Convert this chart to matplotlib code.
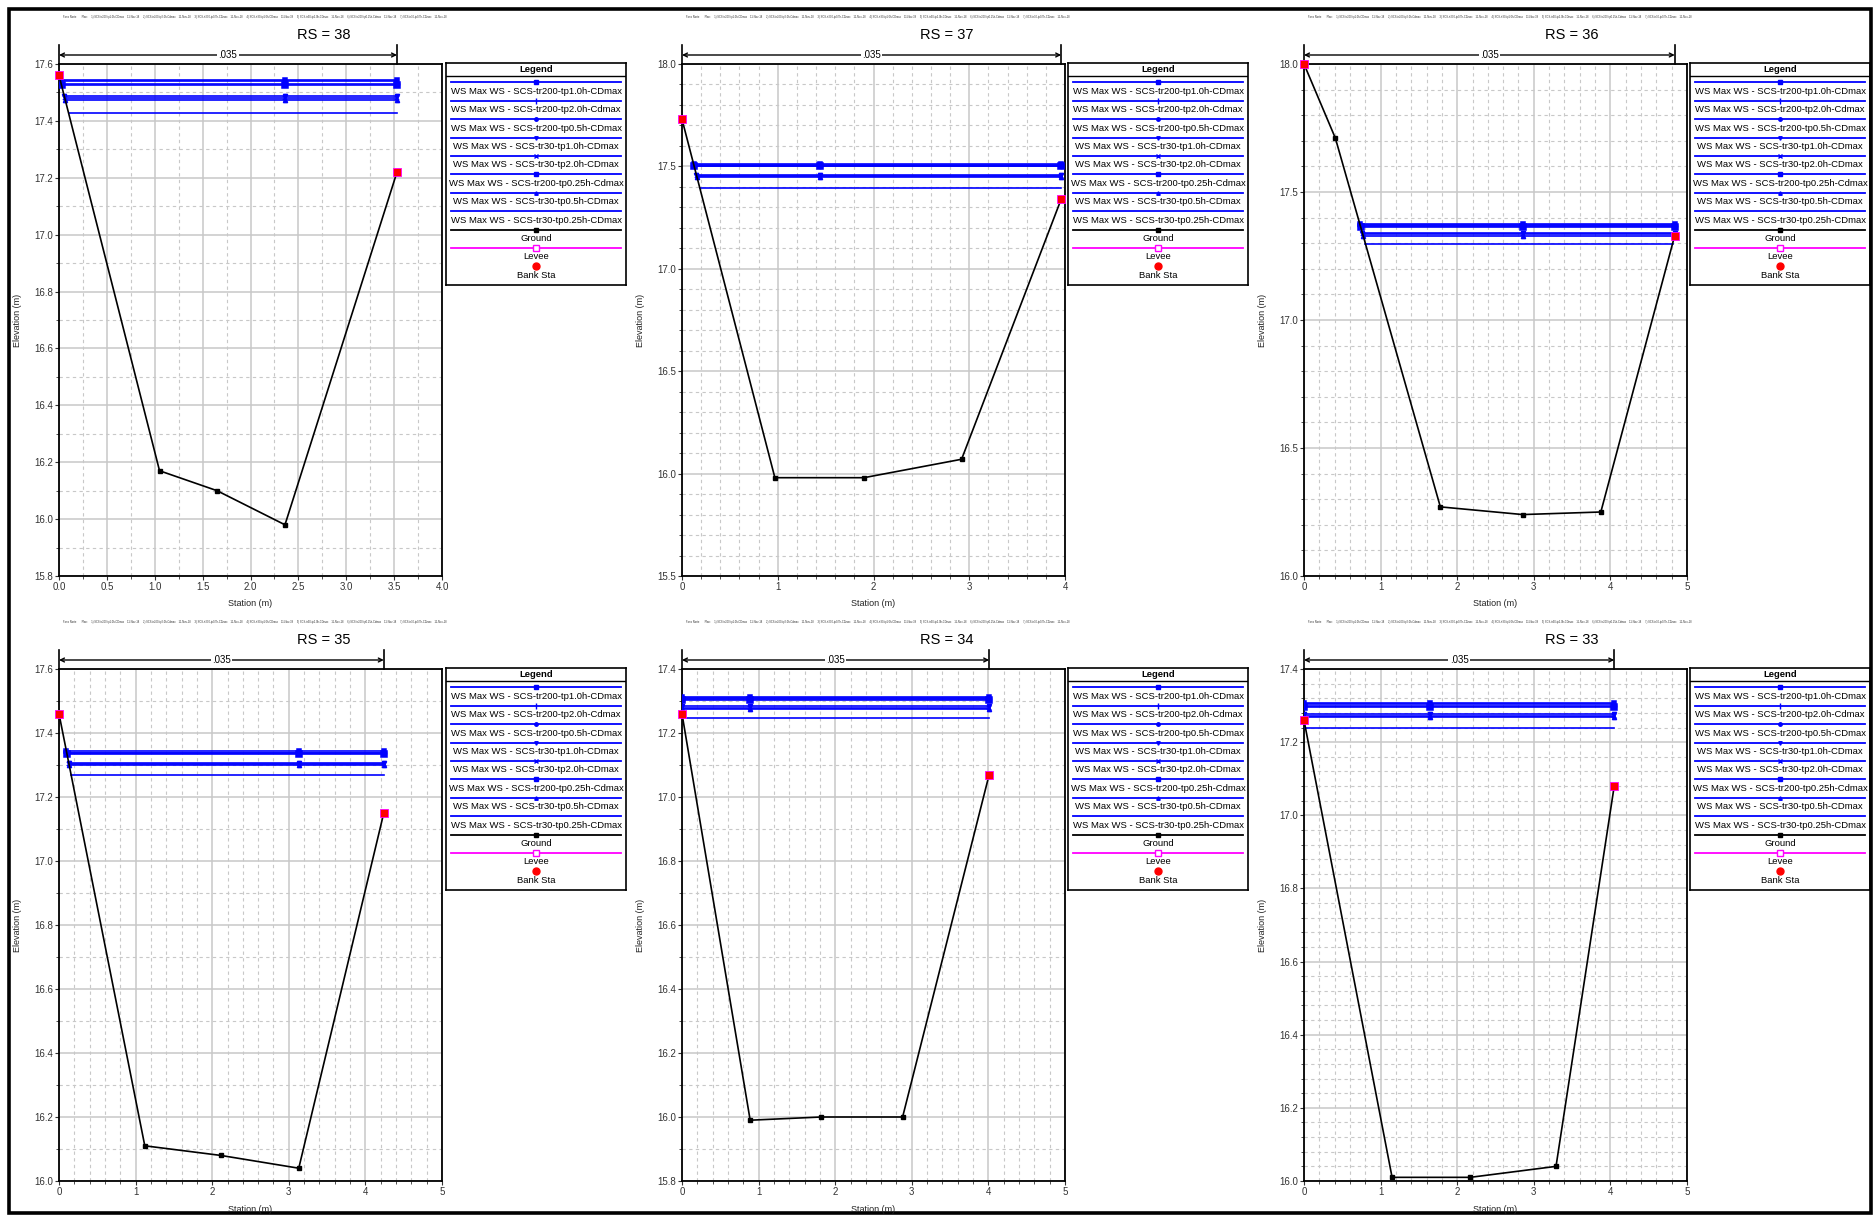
import numpy as np
import matplotlib
matplotlib.use("Agg")
import matplotlib.pyplot as plt
from matplotlib.ticker import MultipleLocator, FormatStrFormatter
from matplotlib.patches import Rectangle

plt.rcParams['font.family'] = ['Liberation Sans', 'DejaVu Sans']

W, H = 1876, 1216

# ---- data ----
rs_names = ['38', '37', '36', '35', '34', '33']

profiles = ['SCS-tr200-tp1.0h-CDmax', 'SCS-tr200-tp2.0h-Cdmax', 'SCS-tr200-tp0.5h-CDmax',
            'SCS-tr30-tp1.0h-CDmax', 'SCS-tr30-tp2.0h-CDmax', 'SCS-tr200-tp0.25h-Cdmax',
            'SCS-tr30-tp0.5h-CDmax', 'SCS-tr30-tp0.25h-CDmax']

sta_38 = [0.0, 1.05, 1.65, 2.36, 3.53]
elev_38 = [17.56, 16.17, 16.10, 15.98, 17.22]
ws_38 = [17.545, 17.540, 17.530, 17.488, 17.480, 17.525, 17.473, 17.428]

sta_37 = [0.0, 0.97, 1.90, 2.92, 3.96]
elev_37 = [17.73, 15.98, 15.98, 16.07, 17.34]
ws_37 = [17.512, 17.508, 17.503, 17.460, 17.452, 17.500, 17.446, 17.396]

sta_36 = [0.0, 0.41, 1.78, 2.855, 3.875, 4.84]
elev_36 = [18.0, 17.71, 16.27, 16.24, 16.25, 17.33]
ws_36 = [17.376, 17.371, 17.367, 17.340, 17.335, 17.363, 17.330, 17.298]

sta_35 = [0.0, 1.12, 2.11, 3.13, 4.24]
elev_35 = [17.46, 16.11, 16.08, 16.04, 17.15]
ws_35 = [17.343, 17.339, 17.336, 17.307, 17.303, 17.333, 17.300, 17.270]

sta_34 = [0.0, 0.89, 1.82, 2.88, 4.01]
elev_34 = [17.26, 15.99, 16.00, 16.00, 17.07]
ws_34 = [17.312, 17.309, 17.305, 17.283, 17.279, 17.302, 17.276, 17.247]

sta_33 = [0.0, 1.15, 2.17, 3.29, 4.05]
elev_33 = [17.26, 16.01, 16.01, 16.04, 17.08]
ws_33 = [17.307, 17.303, 17.299, 17.276, 17.272, 17.296, 17.268, 17.239]

ws_mark_x = [2.36, 1.44, 2.855, 3.13, 0.89, 1.65]
mannings_n = '.035'

stations = [sta_38, sta_37, sta_36, sta_35, sta_34, sta_33]
elevations = [elev_38, elev_37, elev_36, elev_35, elev_34, elev_33]
water = [ws_38, ws_37, ws_36, ws_35, ws_34, ws_33]

# axis setup per panel: xlim, x major, x minor, x fmt, ylim, y major, y minor
axis_specs = [
    ((0, 4), 0.5, 0.25, '%.1f', (15.8, 17.6), 0.2, 0.1),
    ((0, 4), 1, 0.2, '%d', (15.5, 18.0), 0.5, 0.1),
    ((0, 5), 1, 0.2, '%d', (16.0, 18.0), 0.5, 0.1),
    ((0, 5), 1, 0.2, '%d', (16.0, 17.6), 0.2, 0.1),
    ((0, 5), 1, 0.2, '%d', (15.8, 17.4), 0.2, 0.1),
    ((0, 5), 1, 0.2, '%d', (16.0, 17.4), 0.2, 0.04),
]

ws_markers = ['s', '|', 'o', 'v', 'x', 's', '^', None]
ws_msize = [3, 5, 3, 3, 3, 4, 3, 0]

header = ("Fosa Norte       Plan:     1) SCS-tr200-tp1.0h-CDmax    11-Nov-18     "
          "2) SCS-tr200-tp2.0h-Cdmax    11-Nov-18     3) SCS-tr200-tp0.5h-CDmax    11-Nov-18     "
          "4) SCS-tr30-tp1.0h-CDmax    11-Nov-18     5) SCS-tr30-tp2.0h-CDmax    11-Nov-18     "
          "6) SCS-tr200-tp0.25h-Cdmax    11-Nov-18     7) SCS-tr30-tp0.5h-CDmax    11-Nov-18")


def crossing(sta, elev, ws, from_left=True):
    n = len(sta)
    idx = range(n - 1) if from_left else range(n - 1, 0, -1)
    edge = 0 if from_left else n - 1
    if ws >= elev[edge]:
        return sta[edge]
    for i in idx:
        j = i + 1 if from_left else i - 1
        if (elev[i] - ws) * (elev[j] - ws) <= 0:
            t = (ws - elev[i]) / (elev[j] - elev[i])
            return sta[i] + t * (sta[j] - sta[i])
    return sta[edge]


def px_axes(x0, top, w, h):
    return [x0 / W, 1 - (top + h) / H, w / W, h / H]


fig = plt.figure(figsize=(W / 100, H / 100), dpi=100)

col_x = [59, 682, 1304]
leg_x = [446, 1068, 1690]
row_top = [64, 669]
col_center = [324, 947, 1572]
AX_W, AX_H = 383, 512
LEG_FS = 6.8

for k in range(6):
    r, c = divmod(k, 3)
    top = row_top[r]
    ax = fig.add_axes(px_axes(col_x[c], top, AX_W, AX_H))
    xl, xmaj, xmin, xfmt, yl, ymaj, ymin = axis_specs[k]
    sta = np.array(stations[k])
    elev = np.array(elevations[k])

    # water surfaces
    for p in range(len(profiles)):
        ws = water[k][p]
        x0 = crossing(sta, elev, ws, True)
        x1 = crossing(sta, elev, ws, False)
        ax.plot([x0, x1], [ws, ws], color='#0000ff', lw=1.2, zorder=3)
        if ws_markers[p]:
            ax.plot([x0, ws_mark_x[k], x1], [ws] * 3, ls='none', marker=ws_markers[p],
                    ms=ws_msize[p], color='#0000ff', mew=1.1, zorder=4)

    # ground
    ax.plot(sta, elev, color='black', lw=1.2, marker='s', ms=3, zorder=5)
    # bank stations
    ax.plot([sta[0], sta[-1]], [elev[0], elev[-1]], ls='none', marker='s', ms=6,
            color='red', mec='#ff00ff', mew=0.6, zorder=6, clip_on=False)

    ax.set_xlim(xl)
    ax.set_ylim(yl)
    ax.xaxis.set_major_locator(MultipleLocator(xmaj))
    ax.xaxis.set_minor_locator(MultipleLocator(xmin))
    ax.yaxis.set_major_locator(MultipleLocator(ymaj))
    ax.yaxis.set_minor_locator(MultipleLocator(ymin))
    ax.xaxis.set_major_formatter(FormatStrFormatter(xfmt))
    ax.yaxis.set_major_formatter(FormatStrFormatter('%.1f'))
    ax.grid(which='major', color='#c8c8c8', lw=1.1, ls='-')
    ax.grid(which='minor', color='#c8c8c8', lw=0.8, ls=(0, (3, 3)))
    ax.set_axisbelow(True)
    ax.tick_params(which='major', labelsize=7, length=3, width=0.8, colors='#333333', pad=1)
    ax.tick_params(which='minor', length=2, width=0.6, colors='#333333')
    for s in ax.spines.values():
        s.set_linewidth(1.3)

    # axis labels at fixed spots
    fig.text((col_x[c] + AX_W / 2) / W, 1 - (top + AX_H + 28) / H, 'Station (m)',
             fontsize=6.5, ha='center', va='center', color='#222222')
    fig.text((col_x[c] - 42) / W, 1 - (top + AX_H / 2) / H, 'Elevation (m)', rotation=90,
             fontsize=6.5, ha='center', va='center', color='#222222')

    # manning's n span
    tr = ax.get_xaxis_transform()
    ya = 1 + 9 / AX_H
    ax.plot([sta[0], sta[0]], [1, 1 + 19 / AX_H], color='black', lw=1.2, transform=tr, clip_on=False)
    ax.plot([sta[-1], sta[-1]], [1, 1 + 19 / AX_H], color='black', lw=1.2, transform=tr, clip_on=False)
    ax.annotate('', xy=(sta[0], ya), xytext=(sta[-1], ya), xycoords=tr, textcoords=tr,
                arrowprops=dict(arrowstyle='<->', lw=1.0, color='black', mutation_scale=7,
                                shrinkA=0, shrinkB=0), annotation_clip=False)
    ax.text((sta[0] + sta[-1]) / 2, ya, mannings_n, transform=tr, fontsize=7, ha='center',
            va='center', bbox=dict(facecolor='white', edgecolor='none', pad=1.0))

    # titles and header line
    fig.text(col_center[c] / W, 1 - (top - 29) / H, 'RS = ' + rs_names[k], fontsize=10.5,
             ha='center', va='center')
    fig.text((col_x[c] + 4) / W, 1 - (top - 47) / H, header, fontsize=1.9, ha='left',
             va='center', color='#333333')

    # legend box
    lg = fig.add_axes(px_axes(leg_x[c], top - 1, 180, 222))
    lg.set_xlim(0, 180)
    lg.set_ylim(222, 0)
    lg.set_xticks([])
    lg.set_yticks([])
    for s in lg.spines.values():
        s.set_linewidth(1.2)
    lg.text(90, 6.5, 'Legend', fontsize=LEG_FS, fontweight='bold', ha='center', va='center')
    lg.plot([0, 180], [12.5, 12.5], color='black', lw=1.0)
    for p, name in enumerate(profiles):
        yy = 19.3 + 18.4 * p
        lg.plot([5, 175], [yy, yy], color='#0000ff', lw=1.3)
        if ws_markers[p]:
            lg.plot([90], [yy], marker=ws_markers[p], ms=ws_msize[p] - 0.5, color='#0000ff', mew=1)
        lg.text(90, yy + 9, 'WS Max WS - ' + name, fontsize=LEG_FS, ha='center', va='center')
    yy = 19.3 + 18.4 * 8
    lg.plot([5, 175], [yy, yy], color='black', lw=1.3)
    lg.plot([90], [yy], marker='s', ms=3, color='black')
    lg.text(90, yy + 9, 'Ground', fontsize=LEG_FS, ha='center', va='center')
    yy += 18.4
    lg.plot([5, 175], [yy, yy], color='#ff00ff', lw=1.3)
    lg.plot([90], [yy], marker='s', ms=5, mfc='white', mec='#ff00ff', mew=1)
    lg.text(90, yy + 9, 'Levee', fontsize=LEG_FS, ha='center', va='center')
    yy += 18.0
    lg.plot([90], [yy], marker='o', ms=5, color='red')
    lg.text(90, yy + 9.5, 'Bank Sta', fontsize=LEG_FS, ha='center', va='center')

# outer frame
fig.patches.append(Rectangle((9 / W, 3 / H), 1862 / W, 1204 / H, transform=fig.transFigure,
                             fill=False, lw=2.6, edgecolor='black'))

fig.savefig('out.png', dpi=100)
